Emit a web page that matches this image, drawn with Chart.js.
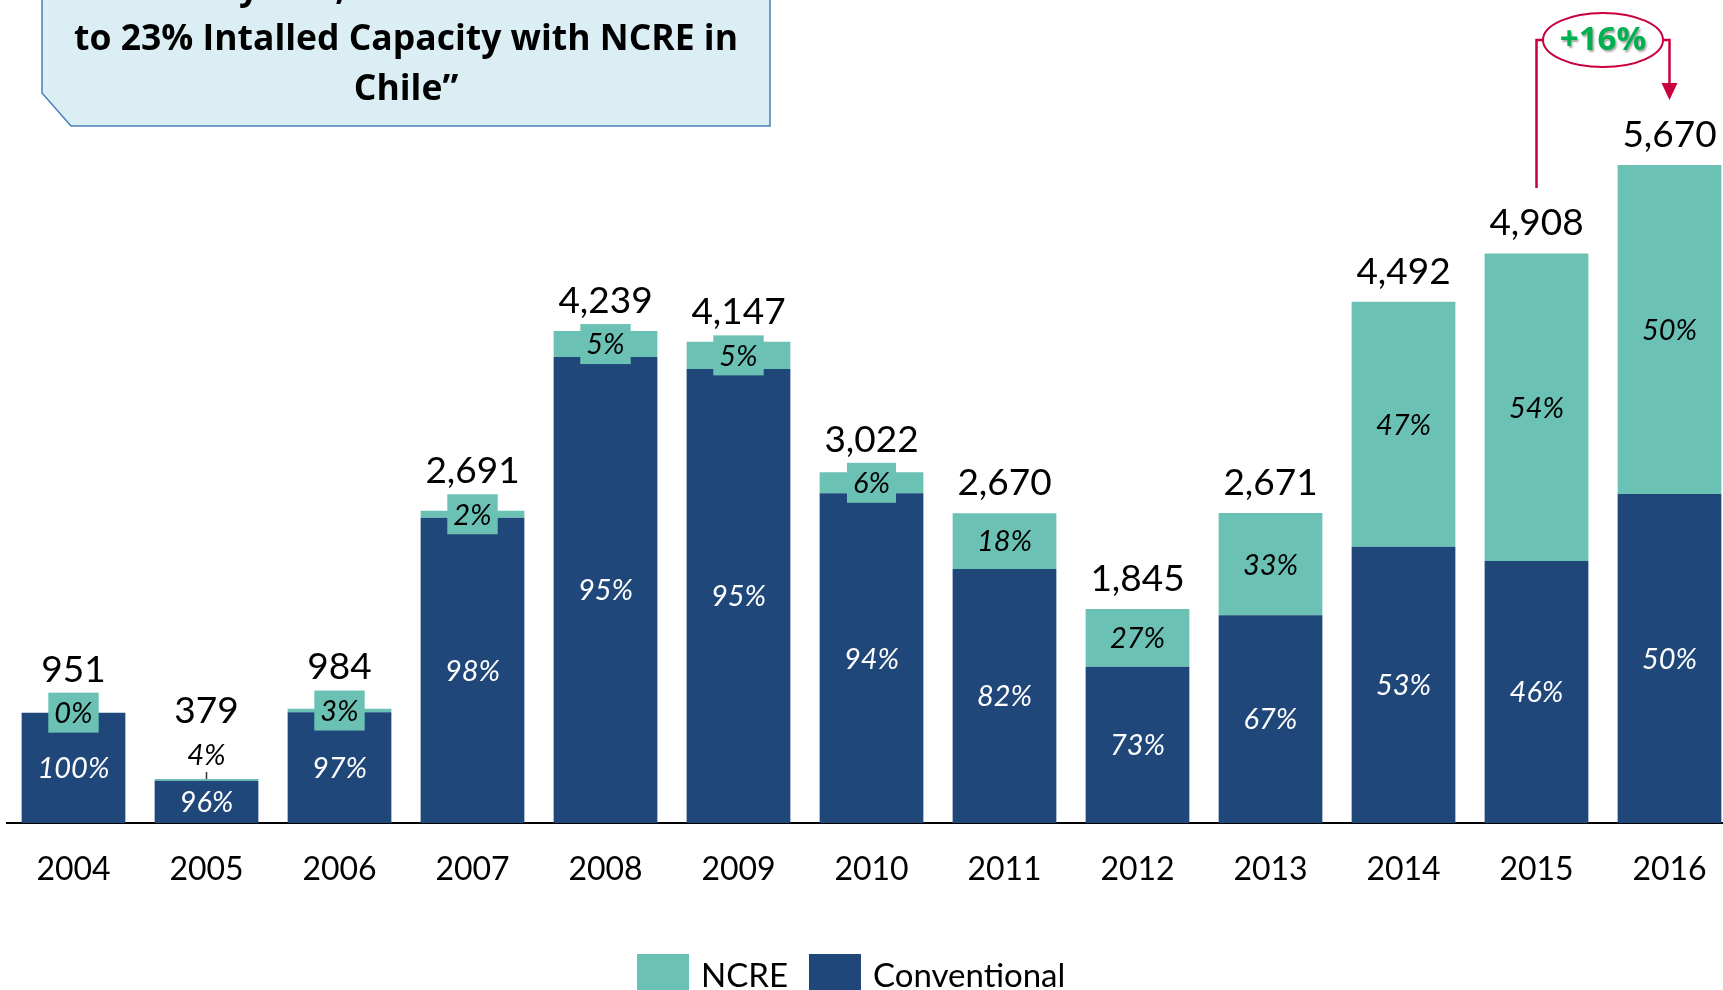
<!DOCTYPE html>
<html>
<head>
<meta charset="utf-8">
<script src="https://cdn.jsdelivr.net/npm/chart.js@4.4.1/dist/chart.umd.min.js"></script>
<style>
  html, body { margin: 0; padding: 0; overflow: hidden; background: #fff; width: 1723px; height: 990px; }
  #wrap { position: absolute; left: 0; top: 0; width: 1750px; height: 1010px; }
</style>
</head>
<body>
<div id="wrap"><canvas id="chart"></canvas></div>
<script>
const years = ['2004', '2005', '2006', '2007', '2008', '2009', '2010', '2011', '2012', '2013', '2014', '2015', '2016'];
const conventional = [951, 364, 954, 2630, 4015, 3912, 2841, 2189, 1347, 1790, 2381, 2258, 2835];
const ncre = [0, 15, 30, 61, 224, 235, 181, 481, 498, 881, 2111, 2650, 2835];
const totalLabels = ['951', '379', '984', '2,691', '4,239', '4,147', '3,022', '2,670', '1,845', '2,671', '4,492', '4,908', '5,670'];
const ncreShare = ['0%', '4%', '3%', '2%', '5%', '5%', '6%', '18%', '27%', '33%', '47%', '54%', '50%'];
const convShare = ['100%', '96%', '97%', '98%', '95%', '95%', '94%', '82%', '73%', '67%', '53%', '46%', '50%'];
const growthLabel = '+16%';

const NAVY = '#1F477A';
const TEAL = '#6BC2B4';
const RED = '#C8003C';
const FONT = 'Lato, "Noto Sans", sans-serif';

// callout box, top-left
const calloutPlugin = {
  id: 'callout',
  afterDraw(chart) {
    const ctx = chart.ctx;
    ctx.save();
    ctx.beginPath();
    ctx.moveTo(42, -10);
    ctx.lineTo(770, -10);
    ctx.lineTo(770, 126);
    ctx.lineTo(71, 126);
    ctx.lineTo(42, 93);
    ctx.closePath();
    ctx.fillStyle = '#DBEEF4';
    ctx.fill();
    ctx.strokeStyle = '#4A7EBB';
    ctx.lineWidth = 1.5;
    ctx.stroke();

    ctx.fillStyle = '#000';
    ctx.font = 'bold 35.5px "Open Sans", ' + FONT;
    ctx.textAlign = 'center';
    ctx.textBaseline = 'middle';
    ctx.fillText('\u201CIn 4 years, we went from 6%', 406, -11);
    ctx.fillText('to 23% Intalled Capacity with NCRE in', 406, 40);
    ctx.fillText('Chile\u201D', 406, 90);
    ctx.restore();
  }
};

// value / share labels on the bars
const labelPlugin = {
  id: 'barLabels',
  afterDatasetsDraw(chart) {
    const ctx = chart.ctx;
    const convBars = chart.getDatasetMeta(0).data;
    const ncreBars = chart.getDatasetMeta(1).data;
    ctx.save();
    ctx.textAlign = 'center';
    ctx.textBaseline = 'middle';

    years.forEach((y, i) => {
      const cb = convBars[i];
      const nb = ncreBars[i];

      ctx.font = 'italic 29px ' + FONT;
      ctx.fillStyle = '#fff';
      ctx.fillText(convShare[i], cb.x, (cb.y + cb.base) / 2 + 1);

      const top = nb.y;
      const h = nb.base - nb.y;
      const mid = (nb.y + nb.base) / 2;
      let totalY = top - 30;

      if (h >= 42) {
        ctx.fillStyle = '#000';
        ctx.fillText(ncreShare[i], nb.x, mid + 1);
      } else if (ncre[i] > 0 && h < 2.5) {
        const ly = top - 23;
        ctx.strokeStyle = '#333';
        ctx.lineWidth = 1.5;
        ctx.beginPath();
        ctx.moveTo(nb.x, top);
        ctx.lineTo(nb.x, top - 7);
        ctx.stroke();
        ctx.fillStyle = '#000';
        ctx.fillText(ncreShare[i], nb.x, ly);
        totalY = Math.min(totalY, ly - 45);
      } else {
        const w = ctx.measureText(ncreShare[i]).width + 12;
        ctx.fillStyle = TEAL;
        ctx.fillRect(nb.x - w / 2, mid - 20, w, 40);
        ctx.fillStyle = '#000';
        ctx.fillText(ncreShare[i], nb.x, mid + 1);
        totalY = Math.min(totalY, mid - 20 - 23);
      }

      ctx.font = '37px ' + FONT;
      ctx.fillStyle = '#000';
      ctx.fillText(totalLabels[i], nb.x, totalY);
    });
    ctx.restore();
  }
};

// +16% bracket between 2015 and 2016
const growthPlugin = {
  id: 'growth',
  afterDraw(chart) {
    const ctx = chart.ctx;
    const bars = chart.getDatasetMeta(1).data;
    const x1 = bars[11].x;
    const x2 = bars[12].x;
    const cx = (x1 + x2) / 2;
    const cy = 40;
    const rx = 60, ry = 27;
    ctx.save();
    ctx.strokeStyle = RED;
    ctx.fillStyle = RED;
    ctx.lineWidth = 2.5;
    ctx.beginPath();
    ctx.moveTo(x1, 188);
    ctx.lineTo(x1, cy);
    ctx.lineTo(cx - rx, cy);
    ctx.moveTo(cx + rx, cy);
    ctx.lineTo(x2, cy);
    ctx.lineTo(x2, 84);
    ctx.stroke();
    ctx.beginPath();
    ctx.moveTo(x2 - 8, 83);
    ctx.lineTo(x2 + 8, 83);
    ctx.lineTo(x2, 100);
    ctx.closePath();
    ctx.fill();
    ctx.lineWidth = 2;
    ctx.beginPath();
    ctx.ellipse(cx, cy, rx, ry, 0, 0, Math.PI * 2);
    ctx.stroke();

    ctx.font = 'bold 33px "Open Sans", ' + FONT;
    ctx.textAlign = 'center';
    ctx.textBaseline = 'middle';
    ctx.shadowColor = 'rgba(0,0,0,0.35)';
    ctx.shadowOffsetX = 1.5;
    ctx.shadowOffsetY = 1.5;
    ctx.shadowBlur = 2;
    ctx.fillStyle = '#00B050';
    ctx.fillText(growthLabel, cx, cy + 1);
    ctx.restore();
  }
};

// legend at the bottom, NCRE first
const legendPlugin = {
  id: 'bottomLegend',
  afterDraw(chart) {
    const ctx = chart.ctx;
    const items = chart.data.datasets.slice().reverse();
    let x = 637;
    ctx.save();
    ctx.font = '33px ' + FONT;
    ctx.textBaseline = 'middle';
    ctx.textAlign = 'left';
    items.forEach(ds => {
      ctx.fillStyle = ds.backgroundColor;
      ctx.fillRect(x, 954, 52, 46);
      x += 52 + 12;
      ctx.fillStyle = '#000';
      ctx.fillText(ds.label, x, 976);
      x += ctx.measureText(ds.label).width + 21;
    });
    ctx.restore();
  }
};

new Chart(document.getElementById('chart'), {
  type: 'bar',
  data: {
    labels: years,
    datasets: [
      { label: 'Conventional', data: conventional, backgroundColor: NAVY },
      { label: 'NCRE', data: ncre, backgroundColor: TEAL }
    ]
  },
  options: {
    responsive: true,
    maintainAspectRatio: false,
    animation: false,
    datasets: { bar: { categoryPercentage: 1, barPercentage: 0.78 } },
    layout: { padding: { left: 7, right: 14, top: 100, bottom: 0 } },
    plugins: { legend: { display: false }, tooltip: { enabled: false } },
    scales: {
      x: {
        stacked: true,
        grid: { display: false, drawTicks: false },
        border: { display: true, color: '#000', width: 2 },
        ticks: { color: '#000', font: { family: FONT, size: 32 }, padding: 27 },
        afterFit(scale) { scale.height = 187; }
      },
      y: {
        stacked: true,
        display: false,
        min: 0,
        max: 6230
      }
    }
  },
  plugins: [calloutPlugin, labelPlugin, growthPlugin, legendPlugin]
});
</script>
</body>
</html>
